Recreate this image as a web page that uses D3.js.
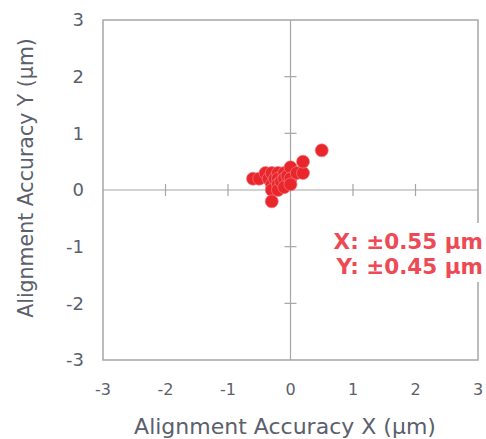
<!DOCTYPE html>
<html>
<head>
<meta charset="utf-8">
<script src="https://cdn.jsdelivr.net/npm/d3@7"></script>
<style>
  html, body { margin: 0; padding: 0; background: #ffffff; }
  svg { display: block; }
</style>
</head>
<body>
<svg id="chart" width="486" height="439"></svg>
<script>
const xValues = [-0.6, -0.5, -0.4, -0.35, -0.3, -0.3, -0.3, -0.3, -0.25, -0.2, -0.2, -0.2, -0.2, -0.15, -0.1, -0.1, -0.1, -0.05, 0, 0, 0, 0.1, 0.2, 0.2, 0.5];
const yValues = [0.2, 0.2, 0.3, 0.2, 0.3, 0.1, 0.0, -0.2, 0.2, 0.3, 0.2, 0.1, 0.0, 0.15, 0.3, 0.2, 0.05, 0.25, 0.4, 0.2, 0.1, 0.3, 0.3, 0.5, 0.7];
const tickValues = [-3, -2, -1, 0, 1, 2, 3];
const xTitle = "Alignment Accuracy X (µm)";
const yTitle = "Alignment Accuracy Y (µm)";
const noteLines = ["X: ±0.55 µm", "Y: ±0.45 µm"];

const svg = d3.select("#chart");
const x = d3.scaleLinear().domain([-3, 3]).range([103, 478]);
const y = d3.scaleLinear().domain([-3, 3]).range([360, 20]);

const axisColor = "#a6a6a6";
const textColor = "#5a606c";

// frame
svg.append("rect")
  .attr("x", x(-3)).attr("y", y(3))
  .attr("width", x(3) - x(-3)).attr("height", y(-3) - y(3))
  .attr("fill", "none").attr("stroke", axisColor).attr("stroke-width", 1.5);

// center axes
svg.append("line")
  .attr("x1", x(-3)).attr("x2", x(3)).attr("y1", y(0)).attr("y2", y(0))
  .attr("stroke", axisColor).attr("stroke-width", 1.2);
svg.append("line")
  .attr("x1", x(0)).attr("x2", x(0)).attr("y1", y(3)).attr("y2", y(-3))
  .attr("stroke", axisColor).attr("stroke-width", 1.2);

// ticks on center axes
const inner = tickValues.filter(v => v !== 0 && Math.abs(v) !== 3);
svg.append("g").selectAll("line").data(inner).join("line")
  .attr("x1", d => x(d)).attr("x2", d => x(d))
  .attr("y1", y(0) - 6).attr("y2", y(0) + 6)
  .attr("stroke", axisColor).attr("stroke-width", 1.2);
svg.append("g").selectAll("line").data(inner).join("line")
  .attr("y1", d => y(d)).attr("y2", d => y(d))
  .attr("x1", x(0) - 6).attr("x2", x(0) + 6)
  .attr("stroke", axisColor).attr("stroke-width", 1.2);

// tick labels
svg.append("g").selectAll("text").data(tickValues).join("text")
  .attr("x", 84).attr("y", d => y(d))
  .attr("dy", "0.36em")
  .attr("text-anchor", "end")
  .attr("font-family", "DejaVu Sans, Verdana, sans-serif")
  .attr("font-size", 18)
  .attr("fill", textColor)
  .text(d => d);
svg.append("g").selectAll("text").data(tickValues).join("text")
  .attr("x", d => x(d)).attr("y", 395)
  .attr("text-anchor", "middle")
  .attr("font-family", "DejaVu Sans, Verdana, sans-serif")
  .attr("font-size", 16)
  .attr("fill", textColor)
  .text(d => d);

// axis titles
svg.append("text")
  .attr("x", 285).attr("y", 434)
  .attr("text-anchor", "middle")
  .attr("font-family", "DejaVu Sans, Verdana, sans-serif")
  .attr("font-size", 22)
  .attr("fill", textColor)
  .text(xTitle);
svg.append("text")
  .attr("transform", "translate(33,178) rotate(-90)")
  .attr("text-anchor", "middle")
  .attr("font-family", "DejaVu Sans, Verdana, sans-serif")
  .attr("font-size", 20.5)
  .attr("fill", textColor)
  .text(yTitle);

// points
const pts = xValues.map((v, i) => ({ x: v, y: yValues[i] }));
svg.append("g").selectAll("circle").data(pts).join("circle")
  .attr("cx", d => x(d.x)).attr("cy", d => y(d.y))
  .attr("r", 6.5)
  .attr("fill", "#e8262c")
  .attr("stroke", "#f27a7e")
  .attr("stroke-opacity", 0.7)
  .attr("stroke-width", 1);

// note box
svg.append("rect")
  .attr("x", 326).attr("y", 223).attr("width", 160).attr("height", 59)
  .attr("fill", "#ffffff");
svg.append("g").selectAll("text").data(noteLines).join("text")
  .attr("x", 483).attr("y", (d, i) => 249 + i * 25)
  .attr("text-anchor", "end")
  .attr("font-family", "DejaVu Sans, Verdana, sans-serif")
  .attr("font-weight", "bold")
  .attr("font-size", 21.5)
  .attr("fill", "#ee4a55")
  .text(d => d);
</script>
</body>
</html>
